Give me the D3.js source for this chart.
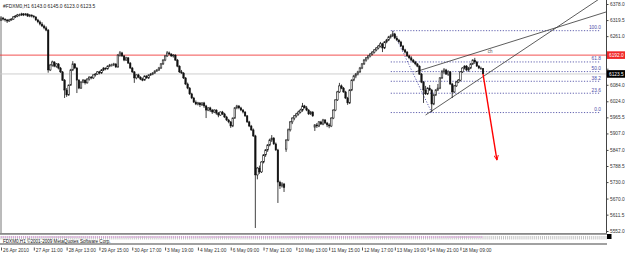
<!DOCTYPE html>
<html lang="en">
<head>
<meta charset="utf-8">
<title>FDXM0,H1</title>
<script src="https://cdnjs.cloudflare.com/ajax/libs/d3/7.8.5/d3.min.js"></script>
<style>
	body { margin:0; background:#fff; }
	svg text { font-family: "Liberation Sans", Arial, sans-serif; }
	.wick { stroke:#111; stroke-width:0.8px; }
	.bull { fill:#fff; stroke:#111; stroke-width:0.6px; }
	.bear { fill:#111; stroke:#111; stroke-width:0.4px; }
	.fib { stroke:#3a3a9a; stroke-width:0.8px; stroke-dasharray:1.2,1.6; fill:none; }
	.chan { stroke:#333; stroke-width:0.8px; fill:none; }
</style>
</head>
<body>
<div id="chart"></div>
<script>
// H1 candles: [open, high, low, close]
var candles = [
[6320,6334,6316,6327],[6327,6331,6318,6323],[6323,6326,6314,6320],[6320,6323,6309,6316],[6316,6324,6313,6320],
[6320,6327,6317,6323],[6323,6334,6320,6331],[6331,6338,6327,6334],[6334,6342,6330,6338],[6338,6343,6333,6338],
[6338,6346,6335,6342],[6342,6345,6334,6338],[6338,6345,6336,6342],[6342,6344,6331,6334],[6334,6341,6330,6338],
[6338,6340,6329,6334],[6334,6338,6326,6331],[6331,6333,6316,6320],[6320,6324,6308,6313],[6313,6318,6300,6305],
[6305,6312,6294,6298],[6298,6303,6286,6291],[6291,6297,6279,6283],[6283,6287,6128,6138],[6138,6160,6134,6156],
[6156,6172,6150,6167],[6167,6170,6148,6152],[6152,6163,6146,6160],[6160,6163,6140,6145],[6145,6149,6127,6131],
[6131,6134,6098,6101],[6101,6105,6036,6065],[6065,6072,6040,6047],[6047,6085,6044,6083],[6083,6142,6080,6138],
[6138,6170,6134,6160],[6160,6163,6141,6145],[6145,6149,6054,6101],[6101,6105,6068,6072],[6072,6097,6069,6094],
[6094,6105,6090,6101],[6101,6104,6085,6091],[6091,6108,6088,6105],[6105,6115,6099,6112],[6112,6116,6104,6109],
[6109,6122,6105,6120],[6120,6127,6114,6123],[6123,6134,6120,6131],[6131,6135,6122,6127],[6127,6141,6124,6138],
[6138,6148,6134,6145],[6145,6147,6137,6142],[6142,6155,6139,6152],[6152,6160,6148,6156],[6156,6161,6150,6156],
[6156,6164,6152,6160],[6160,6162,6145,6149],[6149,6196,6146,6192],[6192,6207,6186,6200],[6200,6204,6185,6189],
[6189,6192,6170,6174],[6174,6186,6171,6182],[6182,6185,6160,6163],[6163,6167,6142,6145],[6145,6149,6127,6131],
[6131,6134,6091,6109],[6109,6122,6104,6120],[6120,6124,6108,6112],[6112,6115,6101,6105],[6105,6110,6097,6101],
[6101,6118,6099,6116],[6116,6119,6106,6109],[6109,6122,6105,6120],[6120,6127,6116,6123],[6123,6130,6119,6127],
[6127,6137,6124,6134],[6134,6141,6131,6138],[6138,6149,6134,6145],[6145,6163,6142,6160],[6160,6177,6156,6174],
[6174,6192,6170,6189],[6189,6207,6185,6200],[6200,6205,6192,6196],[6196,6199,6185,6189],[6189,6196,6183,6192],
[6192,6195,6171,6174],[6174,6178,6148,6152],[6152,6155,6127,6131],[6131,6138,6124,6127],[6127,6130,6105,6109],
[6109,6112,6083,6087],[6087,6092,6068,6072],[6072,6076,6047,6051],[6051,6055,6032,6036],[6036,6040,6018,6021],
[6021,6027,6010,6014],[6014,6022,6009,6018],[6018,6021,6003,6011],[6011,6020,6007,6018],[6018,6022,6000,6007],
[6007,6011,5963,5992],[5992,6003,5988,6000],[6000,6004,5985,5992],[5992,5996,5978,5985],[5985,5995,5981,5992],
[5992,5995,5975,5981],[5981,5985,5966,5974],[5974,5987,5971,5985],[5985,5989,5974,5978],[5978,5982,5963,5967],
[5967,5971,5952,5956],[5956,5960,5944,5949],[5949,5952,5927,5934],[5934,5965,5930,5963],[5963,6003,5960,6000],
[6000,6011,5995,6007],[6007,6010,5995,6000],[6000,6004,5988,5992],[5992,5996,5980,5985],[5985,5988,5967,5971],
[5971,5974,5945,5949],[5949,5953,5930,5934],[5934,5938,5916,5920],[5920,5925,5894,5898],[5898,5902,5563,5756],
[5756,5785,5740,5781],[5781,5790,5760,5767],[5767,5806,5763,5803],[5803,5832,5798,5829],[5829,5850,5822,5847],
[5847,5868,5840,5865],[5865,5888,5860,5883],[5883,5901,5876,5890],[5890,5894,5865,5869],[5869,5874,5843,5847],
[5847,5851,5654,5730],[5730,5735,5705,5716],[5716,5730,5710,5723],[5723,5727,5694,5710],[5850,5886,5840,5883],
[5883,5925,5879,5920],[5920,5952,5914,5949],[5949,5966,5941,5963],[5963,5974,5955,5971],[5971,5982,5965,5978],
[5978,5990,5972,5985],[5985,5997,5980,5992],[5992,6018,5986,6007],[6007,6011,5998,6000],[6000,6007,5988,5992],
[5992,5996,5974,5978],[5978,5989,5974,5985],[5985,5988,5967,5971],[5930,5941,5916,5938],[5938,5945,5927,5934],
[5934,5952,5930,5949],[5949,5953,5938,5941],[5941,5960,5937,5956],[5956,5959,5941,5945],[5945,5949,5930,5938],
[5938,5944,5926,5934],[5934,5966,5930,5963],[5963,5995,5959,5992],[5992,6031,5988,6029],[6029,6062,6025,6058],
[6058,6091,6054,6080],[6080,6085,6068,6072],[6072,6076,6055,6058],[6058,6062,6032,6036],[6036,6040,6011,6018],
[6018,6068,6014,6065],[6065,6104,6061,6101],[6101,6120,6097,6116],[6116,6127,6108,6123],[6123,6135,6118,6131],
[6131,6149,6127,6145],[6145,6163,6141,6160],[6160,6178,6156,6174],[6174,6185,6168,6182],[6182,6192,6176,6189],
[6189,6200,6184,6196],[6196,6207,6191,6203],[6203,6214,6198,6211],[6211,6221,6206,6218],[6218,6229,6213,6225],
[6225,6240,6220,6233],[6233,6237,6203,6218],[6218,6243,6214,6240],[6240,6251,6235,6247],[6247,6262,6243,6258],
[6258,6268,6252,6262],[6262,6280,6258,6269],[6269,6273,6250,6254],[6254,6262,6243,6247],[6247,6251,6235,6240],
[6240,6244,6221,6225],[6225,6229,6207,6211],[6211,6215,6198,6203],[6203,6207,6185,6189],[6189,6193,6177,6182],
[6182,6188,6170,6174],[6174,6178,6163,6167],[6167,6171,6155,6160],[6160,6163,6148,6152],[6152,6155,6120,6123],
[6123,6127,6090,6094],[6094,6098,6018,6065],[6065,6080,6047,6051],[6051,6075,6047,6072],[6072,6083,6062,6065],
[6065,6069,5985,6014],[6014,6050,6010,6047],[6047,6068,6043,6065],[6065,6087,6061,6072],[6072,6112,6068,6109],
[6109,6138,6105,6131],[6131,6145,6124,6138],[6138,6142,6120,6123],[6123,6137,6116,6131],[6131,6134,6083,6087],
[6087,6091,6036,6058],[6058,6083,6054,6080],[6080,6098,6076,6094],[6094,6105,6090,6101],[6101,6134,6097,6131],
[6131,6148,6127,6145],[6145,6155,6140,6152],[6152,6156,6134,6138],[6138,6149,6131,6145],[6145,6163,6141,6160],
[6160,6177,6156,6174],[6174,6182,6160,6167],[6167,6171,6149,6152],[6152,6156,6141,6145],[6145,6150,6138,6143],
[6143,6145,6123,6123.5]
];

var priceTicks = [6378.0, 6319.5, 6261.0, 6201.5, 6142.5, 6084.0, 6024.0, 5965.5, 5907.0, 5847.0, 5788.5, 5730.0, 5670.0, 5611.5, 5552.0];
var timeBars = [0, 16, 32, 48, 64, 80, 96, 112, 128, 144, 160, 176, 192, 208, 224];
var timeLabels = ["26 Apr 2010", "27 Apr 11:00", "28 Apr 13:00", "29 Apr 15:00", "30 Apr 17:00", "3 May 19:00", "4 May 21:00",
	"6 May 09:00", "7 May 11:00", "10 May 13:00", "11 May 15:00", "12 May 17:00", "13 May 19:00", "14 May 21:00", "18 May 09:00"];

var title = "#FDXM0,H1  6143.0 6145.0 6123.0 6123.5";
var redLevel = 6192.0;
var bidPrice = 6123.5;

var fibLevels = [0.0, 23.6, 38.2, 50.0, 61.8, 100.0];
var fibHigh = {bar: 191, price: 6281};
var fibLow = {bar: 210, price: 5983};
var fibEndBar = 292;

var channelLower = [{bar: 207, price: 5974}, {bar: 291, price: 6393}];
var channelUpper = [{bar: 202, price: 6131}, {bar: 295, price: 6349}];
var channelName = "ch";
var arrowPts = [{bar: 235, price: 6124}, {bar: 241.8, price: 5810}];

var W = 625, H = 255;
var axisX = 606, mainBottom = 233;

var x = d3.scaleLinear().domain([0, 235]).range([1, 483]);
var y = d3.scaleLinear().domain([5552, 6378]).range([231, 4]);

var svg = d3.select("#chart").append("svg")
	.attr("width", W).attr("height", H);

svg.append("defs").append("clipPath").attr("id", "main")
	.append("rect").attr("x", 0).attr("y", 0).attr("width", axisX).attr("height", mainBottom);

svg.select("defs").append("marker")
	.attr("id", "head").attr("viewBox", "0 0 10 10")
	.attr("refX", 9).attr("refY", 5)
	.attr("markerWidth", 4).attr("markerHeight", 4)
	.attr("orient", "auto")
	.append("path").attr("d", "M0,1 L9,5 L0,9").attr("fill", "none").attr("stroke", "#f00").attr("stroke-width", 1.6);

// left frame
svg.append("line").attr("x1", 1).attr("x2", 1).attr("y1", 20).attr("y2", mainBottom)
	.attr("stroke", "#666").attr("stroke-width", 0.9);

var plot = svg.append("g").attr("clip-path", "url(#main)");

// horizontal lines
plot.append("line").attr("x1", 0).attr("x2", axisX)
	.attr("y1", y(redLevel)).attr("y2", y(redLevel))
	.attr("stroke", "#f03c3c").attr("stroke-width", 0.9);
plot.append("line").attr("x1", 0).attr("x2", axisX)
	.attr("y1", y(bidPrice)).attr("y2", y(bidPrice))
	.attr("stroke", "#c8c8c8").attr("stroke-width", 0.9);

// fibonacci
var fibPrice = function(l) { return fibLow.price + (fibHigh.price - fibLow.price) * l / 100; };
plot.selectAll(".fibl").data(fibLevels).enter().append("line")
	.attr("class", "fib")
	.attr("x1", x(fibHigh.bar) - 2).attr("x2", x(fibEndBar))
	.attr("y1", function(d) { return y(fibPrice(d)); })
	.attr("y2", function(d) { return y(fibPrice(d)); });
plot.append("line").attr("class", "fib")
	.attr("x1", x(fibHigh.bar)).attr("y1", y(fibHigh.price))
	.attr("x2", x(fibLow.bar)).attr("y2", y(fibLow.price));
plot.selectAll(".fibt").data(fibLevels).enter().append("text")
	.attr("x", x(fibEndBar) + 1).attr("y", function(d) { return y(fibPrice(d)) - 1.5; })
	.attr("text-anchor", "end").attr("font-size", 4.8).attr("fill", "#4a4aa8")
	.text(function(d) { return d.toFixed(1); });

// channel
function extend(p, toBar) {
	var k = (p[1].price - p[0].price) / (p[1].bar - p[0].bar);
	return [p[0], {bar: toBar, price: p[0].price + k * (toBar - p[0].bar)}];
}
var ln = d3.line().x(function(d) { return x(d.bar); }).y(function(d) { return y(d.price); });
plot.append("path").attr("class", "chan").attr("d", ln(extend(channelLower, 320)));
plot.append("path").attr("class", "chan").attr("d", ln(extend(channelUpper, 320)));
plot.append("text").attr("x", x(237.3)).attr("y", y(6200))
	.attr("font-size", 4.5).attr("fill", "#555").text(channelName);

// candles
var c = plot.selectAll(".candle").data(candles).enter().append("g");
c.append("line").attr("class", "wick")
	.attr("x1", function(d, i) { return x(i); }).attr("x2", function(d, i) { return x(i); })
	.attr("y1", function(d) { return y(d[1]); }).attr("y2", function(d) { return y(d[2]); });
c.append("rect")
	.attr("class", function(d) { return d[3] >= d[0] ? "bull" : "bear"; })
	.attr("x", function(d, i) { return x(i) - 0.8; })
	.attr("width", 1.6)
	.attr("y", function(d) { return y(Math.max(d[0], d[3])); })
	.attr("height", function(d) { return Math.max(0.6, Math.abs(y(d[0]) - y(d[3]))); });

// red arrow
plot.append("path").attr("d", ln(arrowPts))
	.attr("stroke", "#f00").attr("stroke-width", 1.4).attr("fill", "none")
	.attr("marker-end", "url(#head)");

// header
svg.append("text").attr("x", 3).attr("y", 7.5).attr("font-size", 4.9).attr("fill", "#222").text(title);

// price axis
svg.append("line").attr("x1", axisX + 0.5).attr("x2", axisX + 0.5).attr("y1", 0).attr("y2", mainBottom)
	.attr("stroke", "#444").attr("stroke-width", 1);
var tagged = [redLevel, bidPrice];
var yAxis = d3.axisRight(y).tickValues(priceTicks).tickSize(2).tickPadding(1.5)
	.tickFormat(function(d) { return d.toFixed(1); });
var ya = svg.append("g").attr("transform", "translate(" + (axisX + 0.5) + ",0)").call(yAxis);
ya.select(".domain").remove();
ya.selectAll("line").attr("stroke", "#444");
ya.selectAll("text").attr("font-size", 4.8).attr("fill", "#333").attr("font-family", "Liberation Sans, Arial, sans-serif");
// labels covered by a price tag stay hidden, as in the terminal
ya.selectAll(".tick").filter(function(d) {
	return tagged.some(function(p) { return Math.abs(y(p) - y(d)) < 7; });
}).select("text").remove();

// price labels
function priceTag(p, bg) {
	var g = svg.append("g");
	g.append("rect").attr("x", axisX + 1).attr("y", y(p) - 3.8).attr("width", W - axisX - 1).attr("height", 7.6).attr("fill", bg);
	g.append("text").attr("x", axisX + 3).attr("y", y(p) + 1.8).attr("font-size", 4.8).attr("fill", "#fff").text(p.toFixed(1));
}
priceTag(redLevel, "#f02828");
priceTag(bidPrice, "#000");

// indicator sub-window
var sub = svg.append("g");
sub.append("rect").attr("x", 0).attr("y", mainBottom).attr("width", axisX + 1).attr("height", 1.8).attr("fill", "#8a8a8a");
sub.append("rect").attr("x", 0).attr("y", 243.2).attr("width", axisX + 1).attr("height", 1.6).attr("fill", "#8a8a8a");
var subBars = d3.range(0, 296);
sub.selectAll(".st").data(subBars).enter().append("line")
	.attr("x1", function(d) { return x(d); }).attr("x2", function(d) { return x(d); })
	.attr("y1", 236).attr("y2", 239.5)
	.attr("stroke", "#9a9a9a").attr("stroke-width", 0.6);
sub.append("line").attr("x1", x(0)).attr("x2", x(235)).attr("y1", 237).attr("y2", 237)
	.attr("stroke", "#d878d8").attr("stroke-width", 0.9).attr("stroke-dasharray", "1.2,0.8");
sub.append("text").attr("x", 3).attr("y", 242.6).attr("font-size", 4.6).attr("fill", "#111")
	.text("FDXM0,H1 \u00A92001-2009 MetaQuotes Software Corp.");
sub.append("rect").attr("x", axisX + 1).attr("y", 234).attr("width", 4.5).attr("height", 5).attr("fill", "#000");

// time axis
var xAxis = d3.axisBottom(x).tickValues(timeBars).tickSize(3).tickFormat(function(d, i) { return timeLabels[i]; });
var xa = svg.append("g").attr("transform", "translate(0,247.5)").call(xAxis);
xa.select(".domain").remove();
xa.selectAll("line").attr("stroke", "#555");
xa.selectAll("text").attr("font-size", 4.8).attr("fill", "#333").attr("text-anchor", "start")
	.attr("x", 1.5).attr("y", 0).attr("dy", "4.2")
	.attr("font-family", "Liberation Sans, Arial, sans-serif");
</script>
</body>
</html>
